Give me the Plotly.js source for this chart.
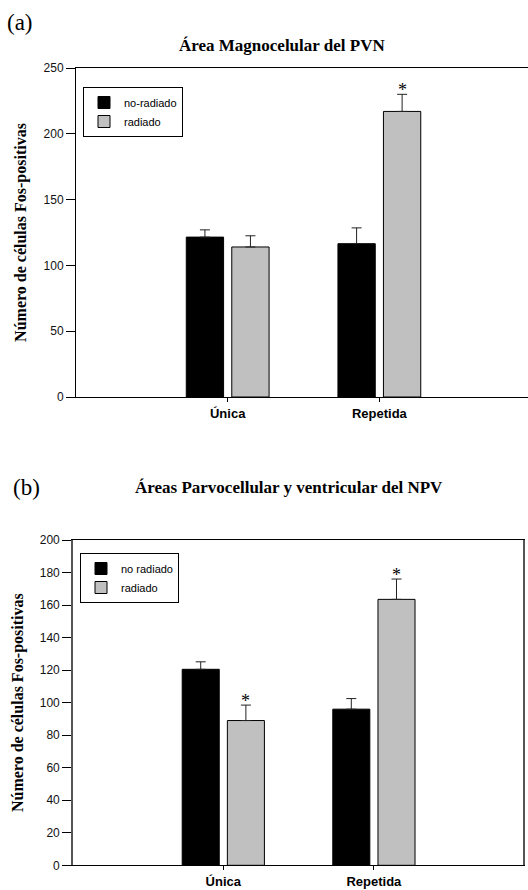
<!DOCTYPE html>
<html><head><meta charset="utf-8">
<script src="https://cdn.plot.ly/plotly-3.0.1.min.js"></script>
<style>html,body{margin:0;padding:0;background:#fff}#chart{width:528px;height:890px}</style>
</head><body><div id="chart"></div>
<script>
// ---- data ----
const categories = ["Única", "Repetida"];
const seriesNamesA = ["no-radiado", "radiado"];
const seriesNamesB = ["no radiado", "radiado"];

const magnoNoRad = [121.5, 116.5];
const magnoNoRadErr = [5.5, 12];
const magnoRad = [114, 217];
const magnoRadErr = [8.5, 13];
const magnoSig = [false, true];

const parvoNoRad = [120.5, 96];
const parvoNoRadErr = [4.6, 6.5];
const parvoRad = [89, 163.5];
const parvoRadErr = [9.5, 12.5];
const parvoSig = [true, true];

const magnoTicks = [0, 50, 100, 150, 200, 250];
const parvoTicks = [0, 20, 40, 60, 80, 100, 120, 140, 160, 180, 200];

const titleA = "Área Magnocelular del PVN";
const titleB = "Áreas Parvocellular y ventricular del NPV";
const yTitle = "Número de células Fos-positivas";

// ---- styles ----
const serif = "'Liberation Serif', 'Times New Roman', serif";
const sans = "Arial, 'Liberation Sans', sans-serif";
const BLACK = "#000000", GRAY = "#c0c0c0";
const bargap = 0.4, bargroupgap = 0.18;
const halfSlot = (1 - bargap) / 4;

function errOpts(arr) {
  return {type: 'data', array: arr, arrayminus: arr.map(() => 0), symmetric: false,
          color: '#222', thickness: 1, width: 5};
}
function barTrace(y, err, name, color, xa, ya, legend) {
  return {type: 'bar', x: categories, y: y, name: name, xaxis: xa, yaxis: ya, legend: legend,
          marker: {color: color, line: {color: '#000', width: 1}},
          error_y: errOpts(err), hoverinfo: 'skip'};
}

const data = [
  barTrace(magnoNoRad, magnoNoRadErr, seriesNamesA[0], BLACK, 'x', 'y', 'legend'),
  barTrace(magnoRad, magnoRadErr, seriesNamesA[1], GRAY, 'x', 'y', 'legend'),
  barTrace(parvoNoRad, parvoNoRadErr, seriesNamesB[0], BLACK, 'x2', 'y2', 'legend2'),
  barTrace(parvoRad, parvoRadErr, seriesNamesB[1], GRAY, 'x2', 'y2', 'legend2')
];

const annotations = [];
function addStars(vals, errs, sig, xref, yref) {
  sig.forEach((s, i) => {
    if (!s) return;
    annotations.push({x: i + halfSlot, y: vals[i] + errs[i], xref: xref, yref: yref,
      text: '*', showarrow: false, yanchor: 'bottom', yshift: -8,
      font: {family: serif, size: 18, color: '#000'}});
  });
}
addStars(magnoRad, magnoRadErr, magnoSig, 'x', 'y');
addStars(parvoRad, parvoRadErr, parvoSig, 'x2', 'y2');

annotations.push({xref: 'paper', yref: 'paper', x: 5/528, y: 1 - 22/890, xanchor: 'left', yanchor: 'middle',
  text: '(a)', showarrow: false, font: {family: serif, size: 23, color: '#000'}});
annotations.push({xref: 'paper', yref: 'paper', x: 282/528, y: 1 - 45/890, xanchor: 'center', yanchor: 'middle',
  text: '<b>' + titleA + '</b>', showarrow: false, font: {family: serif, size: 17, color: '#000'}});
annotations.push({xref: 'paper', yref: 'paper', x: 11/528, y: 1 - 487/890, xanchor: 'left', yanchor: 'middle',
  text: '(b)', showarrow: false, font: {family: serif, size: 23, color: '#000'}});
annotations.push({xref: 'paper', yref: 'paper', x: 289/528, y: 1 - 487/890, xanchor: 'center', yanchor: 'middle',
  text: '<b>' + titleB + '</b>', showarrow: false, font: {family: serif, size: 17, color: '#000'}});

const xBase = {type: 'category', showgrid: false, zeroline: false, showline: true, linecolor: '#000', linewidth: 1,
  ticks: 'outside', ticklen: 4, tickcolor: '#000', mirror: true, fixedrange: true,
  tickfont: {family: sans, size: 13, weight: 700, color: '#000'}};
const yBase = {showgrid: false, zeroline: false, showline: true, linecolor: '#000', linewidth: 1,
  ticks: 'outside', ticklen: 9, tickcolor: '#000', fixedrange: true, automargin: false,
  tickfont: {family: sans, size: 12, color: '#111'},
  title: {text: '<b>' + yTitle + '</b>', font: {family: serif, size: 16, color: '#000'}, standoff: 12}};

const layout = {
  width: 528, height: 890, margin: {l: 0, r: 0, t: 0, b: 0},
  paper_bgcolor: '#fff', plot_bgcolor: 'rgba(0,0,0,0)',
  barmode: 'group', bargap: bargap, bargroupgap: bargroupgap,
  font: {family: sans, color: '#000', size: 12},
  xaxis: Object.assign({}, xBase, {domain: [76/528, 1], range: [-1, 1.98], anchor: 'y'}),
  yaxis: Object.assign({}, yBase, {domain: [1 - 397/890, 1 - 68/890], range: [0, 250], tickvals: magnoTicks, anchor: 'x'}),
  xaxis2: Object.assign({}, xBase, {domain: [72.7/528, 523/528], range: [-1, 1.99], anchor: 'y2'}),
  yaxis2: Object.assign({}, yBase, {domain: [1 - 865.3/890, 1 - 540/890], range: [0, 200], tickvals: parvoTicks, anchor: 'x2',
    mirror: true, linecolor: '#555', linewidth: 1.5}),
  legend: {x: 83/528, y: 1 - 87/890, xanchor: 'left', yanchor: 'top', bordercolor: '#000', borderwidth: 1,
    bgcolor: '#fff', font: {family: sans, size: 11, color: '#000'}, tracegroupgap: 0},
  legend2: {x: 80/528, y: 1 - 553/890, xanchor: 'left', yanchor: 'top', bordercolor: '#000', borderwidth: 1,
    bgcolor: '#fff', font: {family: sans, size: 11, color: '#000'}, tracegroupgap: 0},
  annotations: annotations,
  showlegend: true
};

Plotly.newPlot('chart', data, layout, {staticPlot: true, displayModeBar: false});
</script></body></html>
